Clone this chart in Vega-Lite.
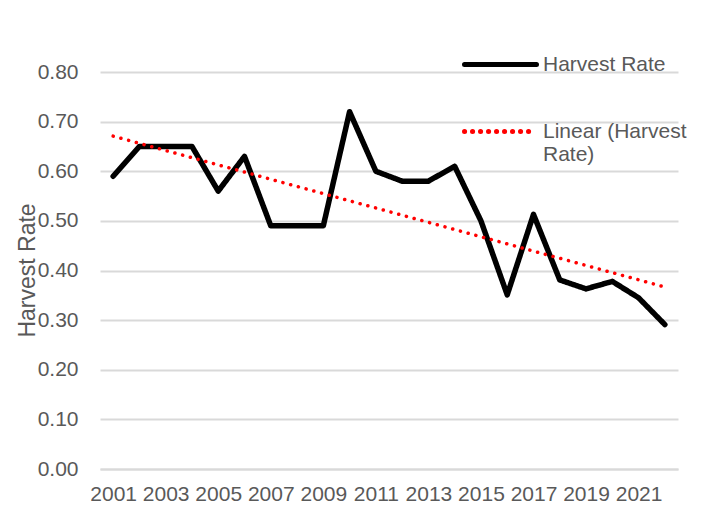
{
  "$schema": "https://vega.github.io/schema/vega-lite/v6.json",
  "width": 578,
  "height": 397,
  "autosize": "none",
  "padding": {"left": 100, "top": 72, "right": 39, "bottom": 39},
  "background": "white",
  "config": {
    "view": {"stroke": null},
    "font": "Liberation Sans",
    "axis": {"labelFont": "Liberation Sans", "titleFont": "Liberation Sans", "labelColor": "#595959", "titleColor": "#595959"},
    "legend": {"labelFont": "Liberation Sans", "labelColor": "#595959"}
  },
  "data": {
    "values": [
      {"year": 2001, "rate": 0.59},
      {"year": 2002, "rate": 0.65},
      {"year": 2003, "rate": 0.65},
      {"year": 2004, "rate": 0.65},
      {"year": 2005, "rate": 0.56},
      {"year": 2006, "rate": 0.63},
      {"year": 2007, "rate": 0.49},
      {"year": 2008, "rate": 0.49},
      {"year": 2009, "rate": 0.49},
      {"year": 2010, "rate": 0.72},
      {"year": 2011, "rate": 0.60},
      {"year": 2012, "rate": 0.58},
      {"year": 2013, "rate": 0.58},
      {"year": 2014, "rate": 0.61},
      {"year": 2015, "rate": 0.50},
      {"year": 2016, "rate": 0.351},
      {"year": 2017, "rate": 0.513},
      {"year": 2018, "rate": 0.381},
      {"year": 2019, "rate": 0.363},
      {"year": 2020, "rate": 0.378},
      {"year": 2021, "rate": 0.345},
      {"year": 2022, "rate": 0.291}
    ]
  },
  "encoding": {
    "x": {
      "field": "year", "type": "quantitative",
      "scale": {"domain": [2000.5, 2022.5], "nice": false, "zero": false},
      "axis": {
        "title": null,
        "values": [2001, 2003, 2005, 2007, 2009, 2011, 2013, 2015, 2017, 2019, 2021],
        "format": "d",
        "grid": false,
        "ticks": false,
        "domainColor": "#d9d9d9",
        "domainWidth": 2,
        "labelFontSize": 21,
        "labelPadding": 14,
        "labelOverlap": false
      }
    },
    "y": {
      "field": "rate", "type": "quantitative",
      "scale": {"domain": [0, 0.8], "nice": false},
      "axis": {
        "title": "Harvest Rate",
        "values": [0, 0.1, 0.2, 0.3, 0.4, 0.5, 0.6, 0.7, 0.8],
        "format": ".2f",
        "domain": false,
        "ticks": false,
        "gridColor": "#d9d9d9",
        "gridWidth": 2,
        "labelFontSize": 21,
        "labelPadding": 22,
        "titleFontSize": 23,
        "titleFontWeight": "normal",
        "titleX": -73,
        "titleY": 198,
        "titleAngle": -90,
        "titleAlign": "center",
        "titleBaseline": "middle"
      }
    }
  },
  "layer": [
    {
      "mark": {"type": "line", "strokeWidth": 5.5, "strokeJoin": "round", "strokeCap": "round"},
      "encoding": {
        "color": {
          "datum": "Harvest Rate", "type": "nominal",
          "scale": {"domain": ["Harvest Rate", "Linear (Harvest Rate)"], "range": ["#000000", "#ff0000"]},
          "legend": {
            "title": null,
            "orient": "none",
            "legendX": 362,
            "legendY": -46,
            "symbolType": "stroke",
            "symbolSize": 5184,
            "symbolStrokeWidth": 5,
            "labelFontSize": 21,
            "labelLimit": 300,
            "labelOffset": 4,
            "rowPadding": 18,
            "labelExpr": "datum.label == 'Linear (Harvest Rate)' ? ['Linear (Harvest', 'Rate)'] : datum.label",
            "encode": {
              "symbols": {
                "update": {
                  "strokeCap": {"value": "round"}
                }
              }
            }
          }
        },
        "strokeDash": {
          "datum": "Harvest Rate", "type": "nominal",
          "scale": {"domain": ["Harvest Rate", "Linear (Harvest Rate)"], "range": [[1, 0], [0.1, 7.9]]}
        }
      }
    },
    {
      "transform": [{"regression": "rate", "on": "year"}],
      "mark": {"type": "line", "strokeWidth": 3.5, "strokeCap": "round"},
      "encoding": {
        "color": {"datum": "Linear (Harvest Rate)", "type": "nominal"},
        "strokeDash": {"datum": "Linear (Harvest Rate)", "type": "nominal"}
      }
    }
  ]
}
